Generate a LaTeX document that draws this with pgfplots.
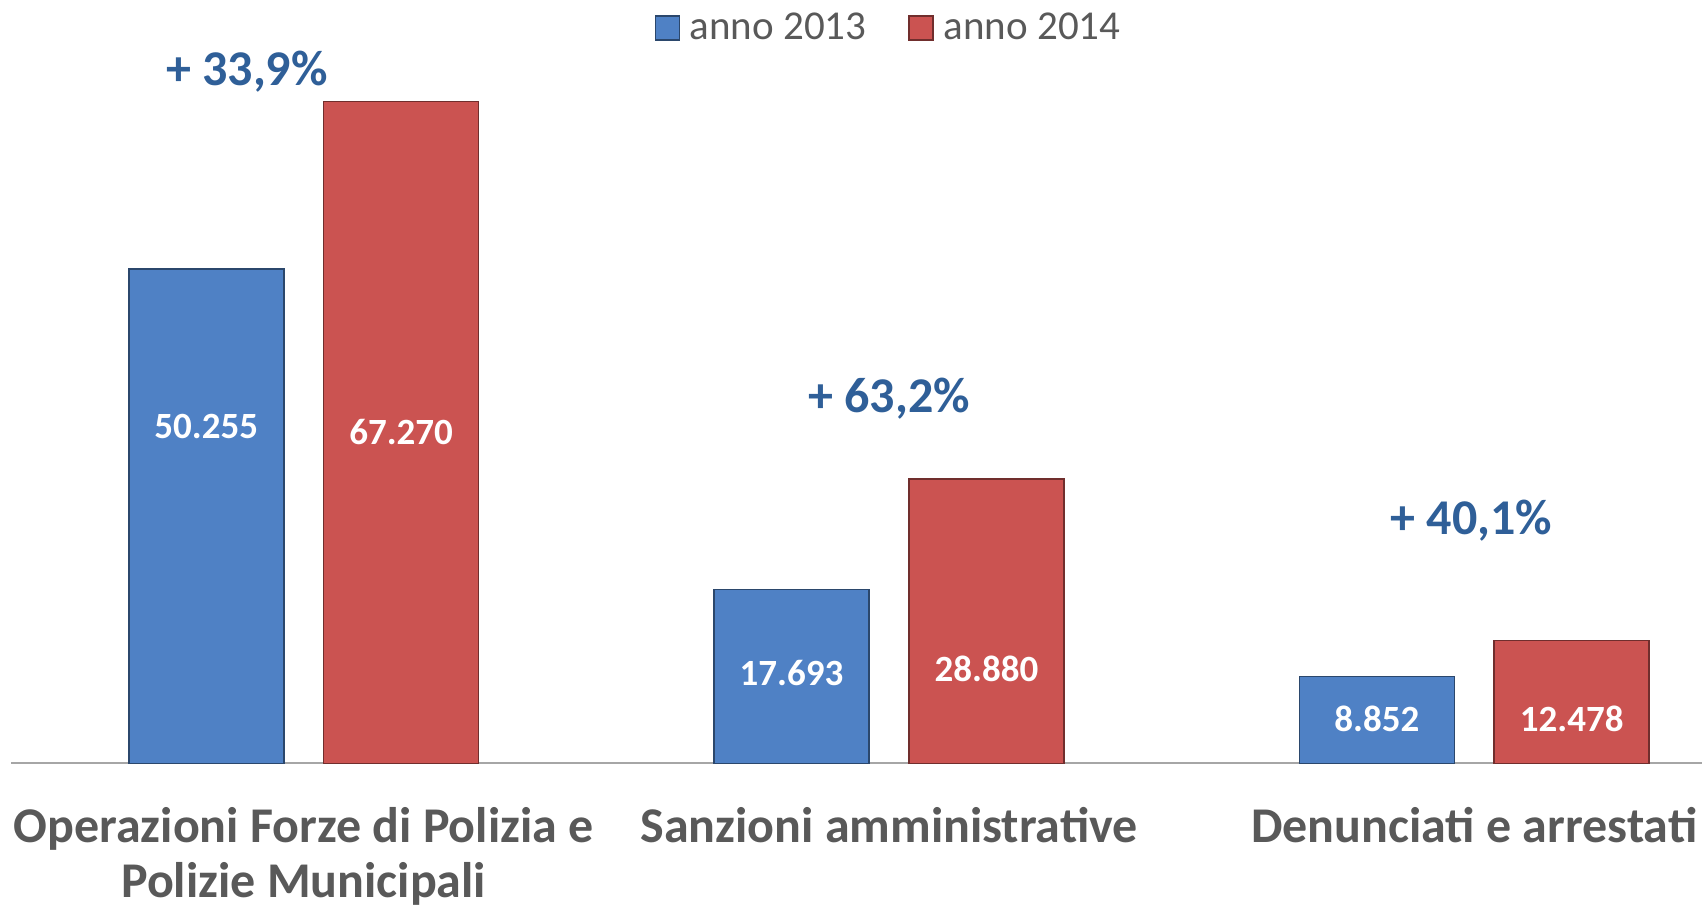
\documentclass[border=0pt]{standalone}
\usepackage{pgfplots}
\pgfplotsset{compat=1.18}
\usepackage{fontspec}
\setmainfont{Carlito}
\definecolor{bblue}{HTML}{4F81C5}
\definecolor{rred}{HTML}{CB5351}
\definecolor{pctblue}{HTML}{2F5F98}
\definecolor{lblgray}{HTML}{595959}
\begin{document}
\begin{tikzpicture}[x=1pt,y=1pt]
\useasboundingbox (0,0) rectangle (851,454.5);
\begin{axis}[
  at={(5.5pt,72.75pt)}, anchor=south west,
  width=845.5pt, height=381.75pt, scale only axis,
  xmin=-0.5, xmax=2.389, ymin=0, ymax=77584,
  ybar, bar width=77.5pt,
  axis y line=none, axis x line*=bottom,
  x axis line style={draw=black!35, line width=1pt, -},
  xtick={0,1,2},
  xticklabels={{Operazioni Forze di Polizia e\\Polizie Municipali},{Sanzioni amministrative},{Denunciati e arrestati}},
  major tick length=0pt,
  xticklabel style={font=\fontsize{25}{27.5}\selectfont\bfseries, text=lblgray, align=center, anchor=north, yshift=-18.5pt},
  legend style={at={(0.5195,1)}, anchor=center, yshift=-14pt, draw=none, fill=none, legend columns=2,
    font=\fontsize{20.5}{24}\selectfont, text=lblgray, inner sep=0pt,
    /tikz/every odd column/.append style={column sep=3pt},
    /tikz/every even column/.append style={column sep=19pt}},
  clip=false,
]
\addplot[fill=bblue, draw=bblue!55!black, line width=0.8pt, bar shift=-48.7pt,
  legend image code/.code={\draw[draw=bblue!55!black, fill=bblue, line width=0.6pt] (0pt,-6pt) rectangle (12pt,6pt);}]
  coordinates {(0,50255) (1,17693) (2,8852)};
\addlegendentry{anno 2013}
\addplot[fill=rred, draw=rred!55!black, line width=0.8pt, bar shift=48.7pt,
  legend image code/.code={\draw[draw=rred!55!black, fill=rred, line width=0.6pt] (0pt,-6pt) rectangle (12pt,6pt);}]
  coordinates {(0,67270) (1,28880) (2,12478)};
\addlegendentry{anno 2014}

\node[text=pctblue, font=\fontsize{25}{25}\selectfont\bfseries] at (axis cs:-0.097,70266) {+ 33,9\%};
\node[text=pctblue, font=\fontsize{25}{25}\selectfont\bfseries] at (axis cs:1,37039) {+ 63,2\%};
\node[text=pctblue, font=\fontsize{25}{25}\selectfont\bfseries] at (axis cs:1.995,24642) {+ 40,1\%};

\node[text=white, font=\fontsize{18.5}{18.5}\selectfont\bfseries] at (axis cs:-0.1665,34194) {50.255};
\node[text=white, font=\fontsize{18.5}{18.5}\selectfont\bfseries] at (axis cs:0.1665,33686) {67.270};
\node[text=white, font=\fontsize{18.5}{18.5}\selectfont\bfseries] at (axis cs:0.8335,9196) {17.693};
\node[text=white, font=\fontsize{18.5}{18.5}\selectfont\bfseries] at (axis cs:1.1665,9603) {28.880};
\node[text=white, font=\fontsize{18.5}{18.5}\selectfont\bfseries] at (axis cs:1.8335,4522) {8.852};
\node[text=white, font=\fontsize{18.5}{18.5}\selectfont\bfseries] at (axis cs:2.1665,4522) {12.478};
\end{axis}
\end{tikzpicture}
\end{document}
